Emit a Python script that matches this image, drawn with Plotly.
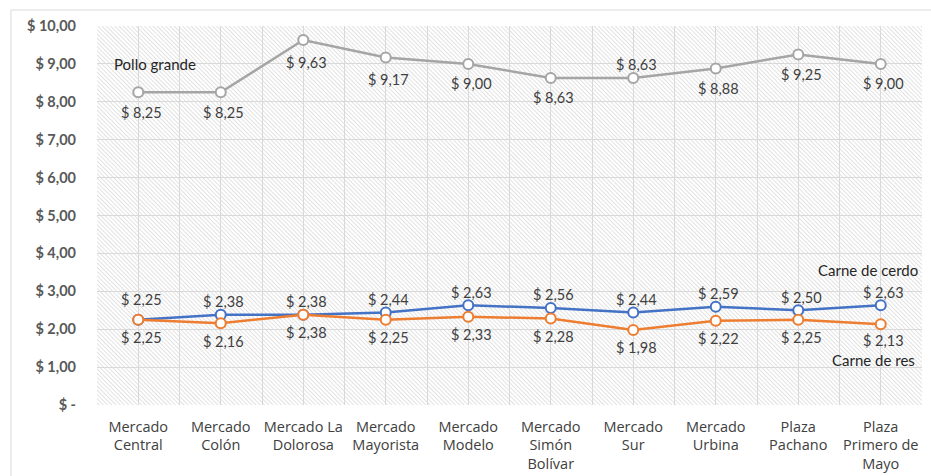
import base64
import plotly.graph_objects as go

categories = ["Mercado Central", "Mercado Colón", "Mercado La Dolorosa", "Mercado Mayorista",
              "Mercado Modelo", "Mercado Simón Bolívar", "Mercado Sur", "Mercado Urbina",
              "Plaza Pachano", "Plaza Primero de Mayo"]
tick_labels = ["Mercado<br>Central", "Mercado<br>Colón", "Mercado La<br>Dolorosa", "Mercado<br>Mayorista",
               "Mercado<br>Modelo", "Mercado<br>Simón<br>Bolívar", "Mercado<br>Sur", "Mercado<br>Urbina",
               "Plaza<br>Pachano", "Plaza<br>Primero de<br>Mayo"]
pollo = [8.25, 8.25, 9.63, 9.17, 9.00, 8.63, 8.63, 8.88, 9.25, 9.00]
cerdo = [2.25, 2.38, 2.38, 2.44, 2.63, 2.56, 2.44, 2.59, 2.50, 2.63]
res = [2.25, 2.16, 2.38, 2.25, 2.33, 2.28, 1.98, 2.22, 2.25, 2.13]
y_ticks = [0, 1, 2, 3, 4, 5, 6, 7, 8, 9, 10]
y_tick_text = ["$ -"] + ["$ %d,00" % v for v in y_ticks[1:]]

# label offsets in pixels (positive = above the point)
pollo_shift = [-20, -20, -22, -22, -20, -20, 13, -20, -20, -20]
cerdo_shift = [20, 13, 13, 13, 13, 13, 13, 13, 13, 13]
res_shift = [-18, -18, -18, -18, -18, -18, -18, -18, -18, -16]

W, H = 931, 476
ML, MR, MT, MB = 97, 9, 26, 71
PW, PH = W - ML - MR, H - MT - MB

FONT = "Lato"
fmt = lambda v: "$ " + ("%.2f" % v).replace(".", ",")
xs = list(range(len(categories)))

svg = ("<svg xmlns='http://www.w3.org/2000/svg' width='%d' height='%d'>"
       "<defs><pattern id='p' width='3' height='3' patternUnits='userSpaceOnUse' patternTransform='rotate(-45)'>"
       "<rect width='3' height='3' fill='white'/>"
       "<line x1='0.5' y1='0' x2='0.5' y2='3' stroke='#e2e2e2' stroke-width='1'/></pattern></defs>"
       "<rect width='%d' height='%d' fill='url(#p)'/></svg>") % (PW, PH, PW, PH)
src = "data:image/svg+xml;base64," + base64.b64encode(svg.encode()).decode()

fig = go.Figure()
lab_font = dict(family=FONT, size=14.5, color="#404040")

def add(vals, color, shifts, name):
    fig.add_trace(go.Scatter(
        x=xs, y=vals, mode="lines+markers", name=name,
        line=dict(color=color, width=2.5),
        marker=dict(symbol="circle", size=10, color="white", line=dict(color=color, width=2)),
        text=[fmt(v) for v in vals],
        customdata=categories, hovertemplate="%{customdata}: %{text}<extra>" + name + "</extra>",
        cliponaxis=False,
    ))
    for x, v, s in zip(xs, vals, shifts):
        fig.add_annotation(x=x, y=v, text=fmt(v), showarrow=False, xshift=3, yshift=s, font=lab_font,
                           borderpad=0)

add(pollo, "#a5a5a5", pollo_shift, "Pollo grande")
add(cerdo, "#4472c4", cerdo_shift, "Carne de cerdo")
add(res, "#ed7d31", res_shift, "Carne de res")

ann_font = dict(family=FONT, size=15, color="#262626")
fig.add_annotation(x=xs[0], y=pollo[0], text="Pollo grande", showarrow=False, xshift=17, yshift=28, font=ann_font)
fig.add_annotation(x=xs[-1], y=cerdo[-1], text="Carne de cerdo", showarrow=False, xshift=-13, yshift=35, font=ann_font)
fig.add_annotation(x=xs[-1], y=res[-1], text="Carne de res", showarrow=False, xshift=-7, yshift=-36, font=ann_font,
                   borderpad=0)

fig.add_layout_image(dict(source=src, xref="paper", yref="paper", x=0, y=1, sizex=1, sizey=1,
                          sizing="stretch", layer="below", xanchor="left", yanchor="top"))

# outer chart border
fig.add_shape(type="rect", xref="paper", yref="paper",
              x0=(11 - ML) / PW, x1=(W + 20 - ML) / PW,
              y0=(H - MB - (H + 20)) / PH, y1=(H - MB - 10) / PH,
              line=dict(color="#d9d9d9", width=1), fillcolor="rgba(0,0,0,0)", layer="below")

fig.update_layout(
    width=W, height=H, margin=dict(l=ML, r=MR, t=MT, b=MB, autoexpand=False),
    paper_bgcolor="white", plot_bgcolor="white", showlegend=False,
    font=dict(family=FONT),
    xaxis=dict(range=[-0.5, len(categories) - 0.5], tickmode="array", tickvals=xs, ticktext=tick_labels,
               automargin=False,
               showgrid=True, gridcolor="#d9d9d9", gridwidth=1, zeroline=False, showline=False,
               ticks="", ticklabelstandoff=11,
               tickfont=dict(family="Open Sans", size=14.5, color="#404040"),
               minor=dict(tickvals=[i + 0.5 for i in xs[:-1]] + [-0.5], showgrid=True,
                          gridcolor="#d9d9d9", gridwidth=1, ticks="")),
    yaxis=dict(range=[0, 10], tickmode="array", tickvals=y_ticks, ticktext=y_tick_text,
               automargin=False,
               showgrid=True, gridcolor="#d9d9d9", gridwidth=1, zeroline=False, showline=False,
               ticks="", ticklabelstandoff=20,
               tickfont=dict(family=FONT, size=14.5, color="#595959", weight="bold")),
)

fig.write_html("out.html", config={"displayModeBar": False},
               post_script="document.documentElement.style.overflow='hidden';"
                           "document.body.style.margin='0';document.body.style.overflow='hidden';")
